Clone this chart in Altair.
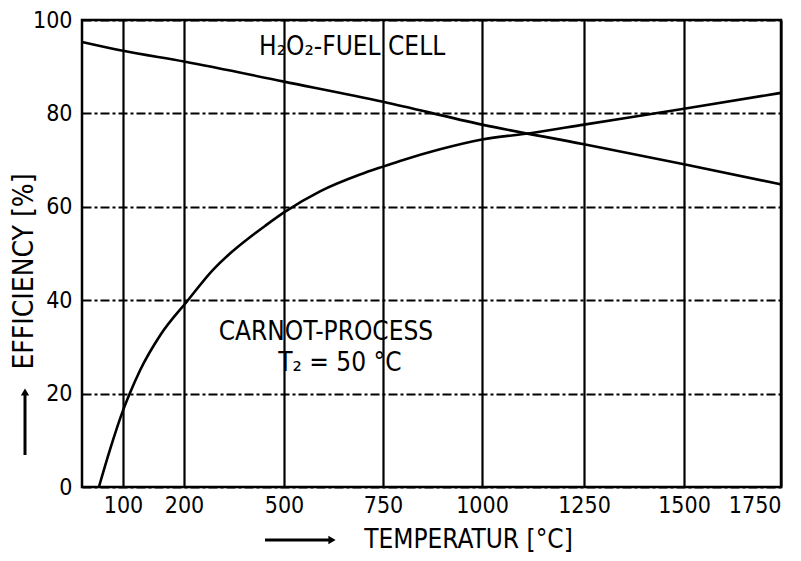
import altair as alt
import pandas as pd

# ---- data ----
carnot_temp = [50, 73, 100, 111, 128, 161, 212, 287, 338, 389, 443, 500, 591, 692, 750, 793, 894, 1000, 1122, 1250, 1500, 1750]
carnot_eff = [0, 8.0, 16.4, 20, 25.0, 32.5, 40, 46.5, 50.0, 53.0, 55.9, 58.8, 63.3, 66.9, 68.6, 69.8, 72.3, 74.4, 75.8, 77.6, 81.0, 84.4]

fuel_temp = [15, 100, 200, 500, 750, 1000, 1250, 1500, 1750]
fuel_eff = [95.3, 93.4, 91.1, 86.8, 82.5, 77.6, 73.4, 69.1, 64.8]

x_ticks = [100, 200, 500, 750, 1000, 1250, 1500, 1750]
y_ticks = [0, 20, 40, 60, 80, 100]

# piecewise (non-linear) temperature axis of the original drawing
x_break_values = [15, 100, 200, 500, 750, 1000, 1250, 1500, 1750]
x_break_frac = [0, 0.0587, 0.1459, 0.2890, 0.4306, 0.5722, 0.7182, 0.8612, 1.0]

label_text = ["H₂O₂-FUEL CELL", "CARNOT-PROCESS", "T₂ = 50 °C"]
label_temp = [672, 606, 641]
label_eff = [94.2, 33.2, 26.5]

W, H = 699, 467
FONT = "DejaVu Sans Condensed, Liberation Sans Narrow, Roboto Condensed, Liberation Sans, sans-serif"

carnot = pd.DataFrame({"T": carnot_temp, "E": carnot_eff, "s": "carnot"})
fuel = pd.DataFrame({"T": fuel_temp, "E": fuel_eff, "s": "fuel"})
curves = pd.concat([carnot, fuel])
labels = pd.DataFrame({"T": label_temp, "E": label_eff, "t": label_text})

xs = alt.Scale(domain=x_break_values, range=[f * W for f in x_break_frac], nice=False, zero=False)
ys = alt.Scale(domain=[0, 100], nice=False, zero=False)

xaxis = alt.Axis(values=x_ticks, format="d", title="TEMPERATUR [°C]", ticks=False, domain=False,
                 grid=True, gridColor="black", gridWidth=2.2, gridOpacity=1,
                 labelFont=FONT, labelFontSize=23, labelColor="black", labelPadding=7,
                 titleFont=FONT, titleFontSize=26, titleFontWeight="normal", titleColor="black",
                 titleX=386, titleY=60, titleAlign="center", titleBaseline="alphabetic",
                 labelFlush=True, labelOverlap=False)
yaxis = alt.Axis(values=y_ticks, format="d", title="EFFICIENCY [%]", ticks=False, domain=False,
                 grid=True, gridColor="black", gridWidth=2, gridOpacity=1, gridDash=[9, 3, 3, 3],
                 labelFont=FONT, labelFontSize=23, labelColor="black", labelPadding=10,
                 titleFont=FONT, titleFontSize=28, titleFontWeight="normal", titleColor="black",
                 titleX=-58, titleY=251, titleAngle=270, titleAlign="center", titleBaseline="middle",
                 labelFlush=False, labelOverlap=False)

lines = alt.Chart(curves).mark_line(color="black", strokeWidth=2.6, interpolate="monotone").encode(
    x=alt.X("T:Q", scale=xs, axis=xaxis),
    y=alt.Y("E:Q", scale=ys, axis=yaxis),
    detail="s:N",
)

text = alt.Chart(labels).mark_text(font=FONT, fontSize=26, color="black", align="center", baseline="middle").encode(
    x=alt.X("T:Q", scale=xs),
    y=alt.Y("E:Q", scale=ys),
    text="t:N",
)

# arrows that accompany the axis titles
x_arrow = alt.Chart(pd.DataFrame({"a": [0]})).mark_rule(color="black", strokeWidth=3).encode(
    x=alt.value(183), x2=alt.value(248), y=alt.value(520))
x_head = alt.Chart(pd.DataFrame({"a": [0]})).mark_point(shape="triangle-right", filled=True, color="black", size=70, opacity=1).encode(
    x=alt.value(250), y=alt.value(520))
y_arrow = alt.Chart(pd.DataFrame({"a": [0]})).mark_rule(color="black", strokeWidth=3).encode(
    x=alt.value(-57), y=alt.value(435), y2=alt.value(375))
y_head = alt.Chart(pd.DataFrame({"a": [0]})).mark_point(shape="triangle-up", filled=True, color="black", size=70, opacity=1).encode(
    x=alt.value(-57), y=alt.value(372))

chart = alt.layer(lines, text, x_arrow, x_head, y_arrow, y_head).properties(
    width=W, height=H,
    autosize=alt.AutoSizeParams(type="none"),
    padding={"left": 74, "top": 12, "right": 12, "bottom": 66},
    background="white",
).configure_view(stroke="black", strokeWidth=2.5)

chart.save("out.html", embed_options={"renderer": "svg", "actions": False})
